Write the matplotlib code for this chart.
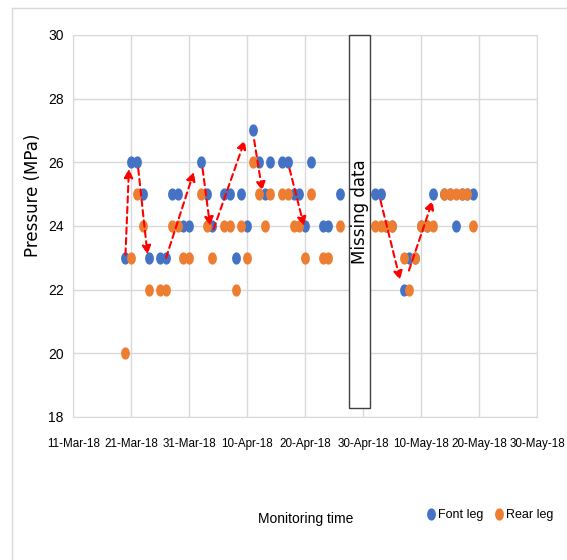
import datetime as dt
import numpy as np
import matplotlib
matplotlib.use("Agg")
import matplotlib.pyplot as plt
import matplotlib.dates as mdates
from matplotlib.lines import Line2D

# data (MPa)
dates = ['2018-03-20', '2018-03-21', '2018-03-22', '2018-03-23', '2018-03-24',
         '2018-03-26', '2018-03-27', '2018-03-28', '2018-03-29', '2018-03-30',
         '2018-03-31', '2018-04-02', '2018-04-03', '2018-04-04', '2018-04-06',
         '2018-04-07', '2018-04-08', '2018-04-09', '2018-04-10', '2018-04-11',
         '2018-04-12', '2018-04-13', '2018-04-14', '2018-04-16', '2018-04-17',
         '2018-04-18', '2018-04-19', '2018-04-20', '2018-04-21', '2018-04-23',
         '2018-04-24', '2018-04-26', '2018-05-02', '2018-05-03', '2018-05-04',
         '2018-05-05', '2018-05-07', '2018-05-08', '2018-05-09', '2018-05-10',
         '2018-05-11', '2018-05-12', '2018-05-14', '2018-05-15', '2018-05-16',
         '2018-05-17', '2018-05-18', '2018-05-19']
front_leg = [23, 26, 26, 25, 23, 23, 23, 25, 25, 24, 24, 26, 25, 24, 25, 25,
             23, 25, 24, 27, 26, 25, 26, 26, 26, 25, 25, 24, 26, 24, 24, 25,
             25, 25, 24, 24, 22, 23, 23, 24, 24, 25, 25, 25, 24, 25, 25, 25]
rear_leg = [20, 23, 25, 24, 22, 22, 22, 24, 24, 23, 23, 25, 24, 23, 24, 24,
            22, 24, 23, 26, 25, 24, 25, 25, 25, 24, 24, 23, 25, 23, 23, 24,
            24, 24, 24, 24, 23, 22, 23, 24, 24, 24, 25, 25, 25, 25, 25, 24]

tick_dates = ['2018-03-11', '2018-03-21', '2018-03-31', '2018-04-10', '2018-04-20',
              '2018-04-30', '2018-05-10', '2018-05-20', '2018-05-30']

# trend arrows: (start day, start MPa, end day, end MPa), days counted from 11-Mar-18
arrows = [(9.0, 23.1, 9.6, 25.8), (11.2, 25.8, 12.8, 23.1), (16.0, 23.0, 20.8, 25.7),
          (22.3, 25.8, 23.6, 24.0), (24.2, 23.9, 29.6, 26.7), (31.2, 26.7, 32.6, 25.1),
          (37.3, 25.8, 39.8, 24.0), (53.0, 24.8, 56.4, 22.3), (57.9, 22.6, 62.0, 24.8)]
gap_days = (47.6, 51.2)

x = [dt.datetime.strptime(d, '%Y-%m-%d') for d in dates]
ticks = [dt.datetime.strptime(d, '%Y-%m-%d') for d in tick_dates]
x0 = mdates.date2num(ticks[0])

lab_font = 'Liberation Sans'
blue = '#4472C4'
orange = '#ED7D31'
grid = '#d9d9d9'

# slightly tall ellipse marker like the picture
t = np.linspace(0, 2*np.pi, 40)
dot = list(zip(0.68*np.cos(t), np.sin(t)))

fig = plt.figure(figsize=(5.67, 5.6), dpi=100)
ax = fig.add_axes([0.1293, 0.2554, 0.8178, 0.6821])

ax.plot(x, front_leg, linestyle='none', marker=dot, markersize=7.8, color=blue, label='Font leg')
ax.plot(x, rear_leg, linestyle='none', marker=dot, markersize=7.8, color=orange, label='Rear leg')

for a in arrows:
    ax.annotate('', xy=(x0 + a[2], a[3]), xytext=(x0 + a[0], a[1]),
                arrowprops=dict(arrowstyle='-|>', color='red', lw=1.5,
                                linestyle=(0, (3, 2)), mutation_scale=13,
                                shrinkA=0, shrinkB=0), zorder=5)

# missing data box
ax.add_patch(plt.Rectangle((x0 + gap_days[0], 18.28), gap_days[1] - gap_days[0], 30 - 18.28,
                           facecolor='white', edgecolor='#404040', lw=1, zorder=6, clip_on=False))
ax.text(x0 + sum(gap_days)/2, 24.45, 'Missing data', rotation=90, ha='center', va='center',
        fontsize=12, family='DejaVu Sans', zorder=7)

ax.set_xlim(ticks[0], ticks[-1])
ax.set_ylim(18, 30)
ax.set_xticks(ticks)
ax.xaxis.set_major_formatter(mdates.DateFormatter('%d-%b-%y'))
ax.set_yticks(np.arange(18, 31, 2))
ax.tick_params(length=0)
ax.tick_params(axis='x', pad=15, labelsize=8.4)
ax.tick_params(axis='y', pad=7, labelsize=10)
for lab in ax.get_xticklabels() + ax.get_yticklabels():
    lab.set_family(lab_font)
ax.grid(True, color=grid, lw=1)
ax.set_axisbelow(True)
for s in ax.spines.values():
    s.set_color(grid)

fig.text(33/567, 1 - 195/560, 'Pressure (MPa)', rotation=90, ha='center', va='center',
         fontsize=12, family='DejaVu Sans')
fig.text(306/567, 1 - 519/560, 'Monitoring time', ha='center', va='center',
         fontsize=10, family=lab_font)
fig.legend(loc='center left', bbox_to_anchor=(426/567, 1 - 515/560), ncol=2, frameon=False,
           handlelength=0.8, handletextpad=0.2, columnspacing=0.8, borderpad=0,
           borderaxespad=0, prop={'family': lab_font, 'size': 9})

# thin outer frame of the original picture
fig.add_artist(Line2D([12/567, 12/567], [0, 1 - 7.5/560], color=grid, lw=1))
fig.add_artist(Line2D([12/567, 1], [1 - 7.5/560, 1 - 7.5/560], color=grid, lw=1))

plt.savefig('out.png', dpi=100)
